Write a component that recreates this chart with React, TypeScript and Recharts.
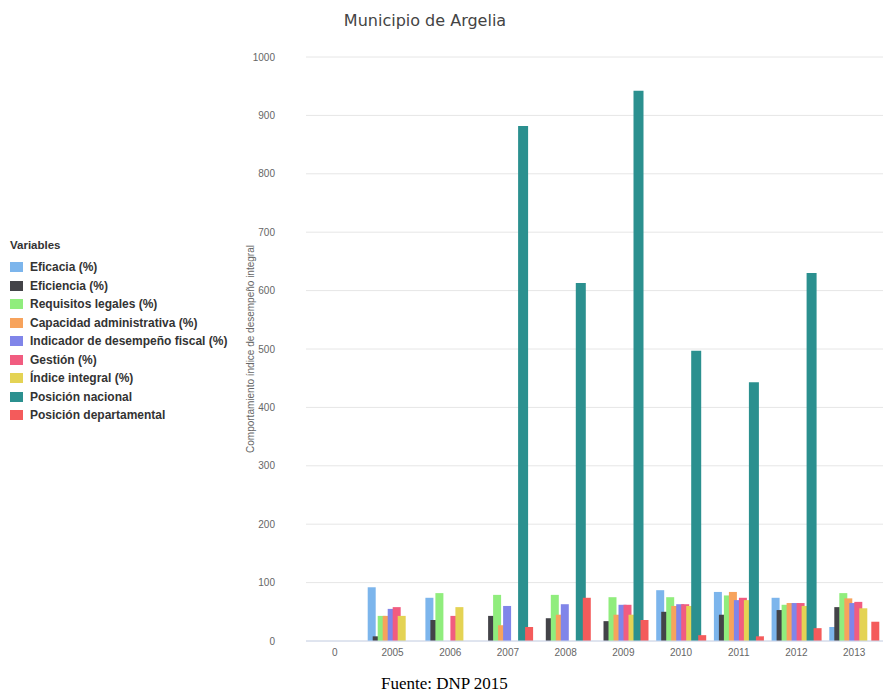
import { BarChart, Bar, XAxis, YAxis, CartesianGrid } from "recharts";

// years on the x axis (first category is an empty "0")
const CATEGORIES = ["0", "2005", "2006", "2007", "2008", "2009", "2010", "2011", "2012", "2013"];

const EFICACIA = [0, 92, 74, 0, 0, 0, 87, 84, 74, 24];
const EFICIENCIA = [0, 8, 36, 43, 39, 34, 50, 45, 53, 58];
const REQUISITOS = [0, 43, 82, 79, 79, 75, 75, 78, 62, 82];
const CAPACIDAD = [0, 43, 0, 27, 45, 45, 60, 84, 65, 73];
const FISCAL = [0, 55, 0, 60, 63, 62, 63, 70, 65, 65];
const GESTION = [0, 58, 43, 0, 0, 62, 63, 74, 65, 67];
const INDICE = [0, 43, 58, 0, 0, 45, 60, 70, 60, 56];
const POS_NACIONAL = [0, 0, 0, 882, 613, 942, 497, 443, 630, 0];
const POS_DEPARTAMENTAL = [0, 0, 0, 24, 74, 36, 10, 8, 22, 33];

const Y_TICKS = [0, 100, 200, 300, 400, 500, 600, 700, 800, 900, 1000];

const SERIES = [
  { key: "eficacia", name: "Eficacia (%)", color: "#7cb5ec", values: EFICACIA },
  { key: "eficiencia", name: "Eficiencia (%)", color: "#434348", values: EFICIENCIA },
  { key: "requisitos", name: "Requisitos legales (%)", color: "#90ed7d", values: REQUISITOS },
  { key: "capacidad", name: "Capacidad administrativa (%)", color: "#f7a35c", values: CAPACIDAD },
  { key: "fiscal", name: "Indicador de desempeño fiscal (%)", color: "#8085e9", values: FISCAL },
  { key: "gestion", name: "Gestión (%)", color: "#f15c80", values: GESTION },
  { key: "indice", name: "Índice integral (%)", color: "#e4d354", values: INDICE },
  { key: "nacional", name: "Posición nacional", color: "#2b908f", values: POS_NACIONAL },
  { key: "departamental", name: "Posición departamental", color: "#f45b5b", values: POS_DEPARTAMENTAL },
];

const FONT = "'Liberation Sans', Arial, sans-serif";

export default function App() {
  const data = CATEGORIES.map((year, i) => {
    const row: Record<string, string | number> = { year };
    SERIES.forEach((s) => {
      row[s.key] = s.values[i];
    });
    return row;
  });

  return (
    <div
      style={{
        position: "absolute",
        left: 0,
        top: 0,
        width: 883,
        height: 698,
        background: "#fff",
        fontFamily: FONT,
      }}
    >
      <div
        style={{
          position: "absolute",
          left: 300,
          top: 11,
          width: 250,
          textAlign: "center",
          fontSize: 16,
          color: "#444",
          fontFamily: "'DejaVu Sans', sans-serif",
        }}
      >
        Municipio de Argelia
      </div>

      {/* legend on the left */}
      <div style={{ position: "absolute", left: 10, top: 239, fontSize: 12, color: "#333" }}>
        <div style={{ fontWeight: "bold", marginBottom: 7, fontSize: 11.5 }}>Variables</div>
        {SERIES.map((s) => (
          <div
            key={s.key}
            style={{ display: "flex", alignItems: "center", height: 18.5, fontWeight: "bold" }}
          >
            <span
              style={{ width: 13, height: 10, background: s.color, marginRight: 7, display: "inline-block" }}
            />
            {s.name}
          </div>
        ))}
      </div>

      <div style={{ position: "absolute", left: 0, top: 0 }}>
        <BarChart
          width={883}
          height={670}
          data={data}
          margin={{ top: 57, right: 0, left: 250, bottom: 0 }}
          barSize={8}
          barGap={-3}
        >
          <CartesianGrid vertical={false} stroke="#e6e6e6" />
          <XAxis
            dataKey="year"
            axisLine={{ stroke: "#ccd6eb" }}
            tickLine={false}
            tick={{ fontSize: 10, fill: "#666", fontFamily: FONT }}
            height={29}
          />
          <YAxis
            width={56}
            domain={[0, 1000]}
            ticks={Y_TICKS}
            axisLine={false}
            tickLine={false}
            tickMargin={25}
            tick={{ fontSize: 10, fill: "#666", fontFamily: FONT }}
            label={{
              value: "Comportamiento índice de desempeño integral",
              angle: -90,
              position: "insideLeft",
              offset: 0,
              style: { textAnchor: "middle", fontSize: 10, fill: "#666", fontFamily: FONT },
            }}
          />
          {SERIES.map((s) => (
            <Bar
              key={s.key}
              dataKey={s.key}
              name={s.name}
              fill={s.color}
              barSize={s.key === "nacional" ? 10 : 8}
              isAnimationActive={false}
            />
          ))}
        </BarChart>
      </div>

      <div
        style={{
          position: "absolute",
          left: 381,
          top: 674,
          fontFamily: "'Liberation Serif', 'Times New Roman', serif",
          fontSize: 17,
          color: "#000",
        }}
      >
        Fuente: DNP 2015
      </div>
    </div>
  );
}
